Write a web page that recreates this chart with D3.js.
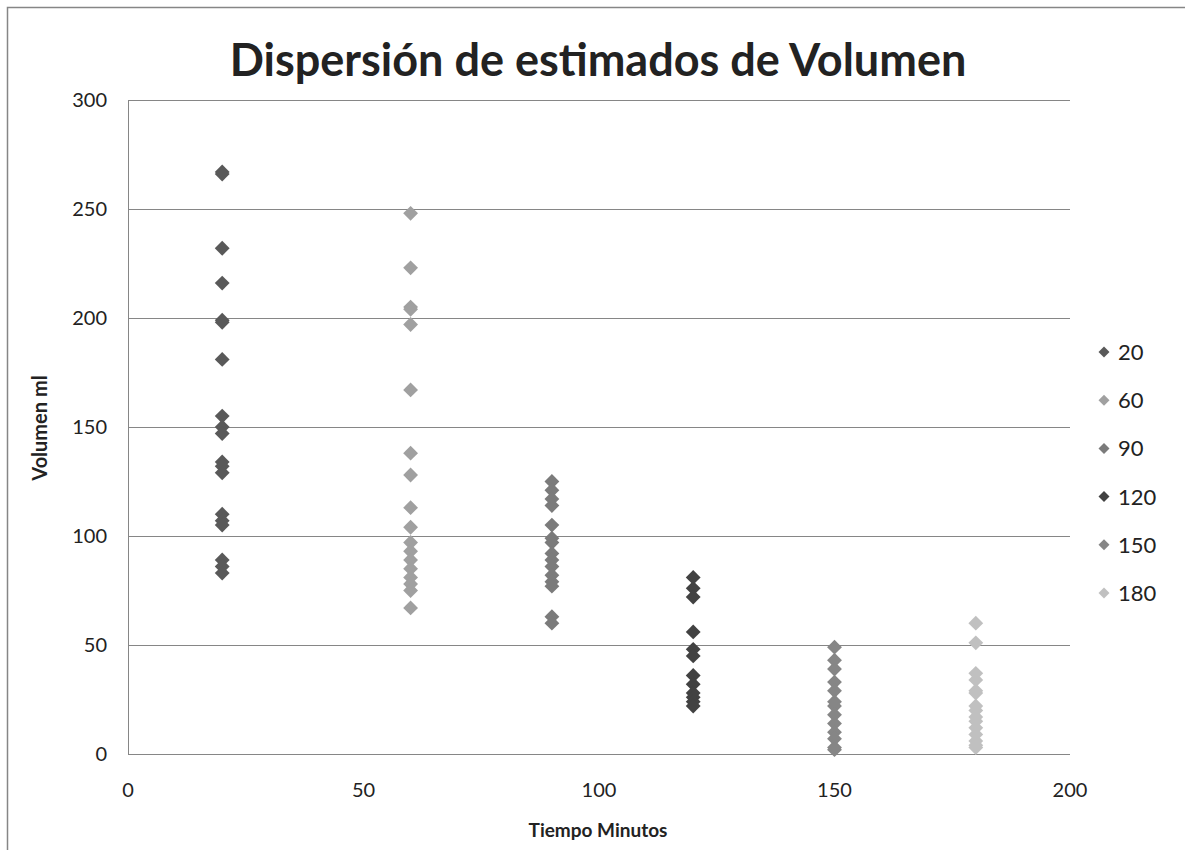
<!DOCTYPE html>
<html>
<head>
<meta charset="utf-8">
<script src="https://cdnjs.cloudflare.com/ajax/libs/d3/7.8.5/d3.min.js"></script>
<style>
  body { margin: 0; background: #fff; }
  text { font-family: Lato, "Open Sans", sans-serif; fill: #222; }
</style>
</head>
<body>
<script>
// series names (minutes) and their volumes
const seriesNames = ['20', '60', '90', '120', '150', '180']
const seriesX = [20, 60, 90, 120, 150, 180]
const vol20 = [267, 266, 232, 216, 199, 198, 181, 155, 150, 147, 134, 132, 129, 110, 107, 105, 89, 86, 83]
const vol60 = [248, 223, 205, 204, 197, 167, 138, 128, 113, 104, 97, 93, 89, 85, 81, 78, 75, 67]
const vol90 = [125, 121, 117, 114, 105, 99, 97, 92, 89, 86, 82, 79, 77, 63, 60]
const vol120 = [81, 76, 72, 56, 48, 45, 36, 32, 28, 26, 24, 22]
const vol150 = [49, 43, 39, 33, 29, 24, 22, 18, 14, 10, 7, 3, 2]
const vol180 = [60, 51, 37, 34, 29, 28, 22, 20, 17, 15, 12, 9, 6, 4, 3]
const seriesColors = ['#595959', '#a0a0a0', '#7b7b7b', '#424242', '#868686', '#c0c0c0']
const yTicks = [0, 50, 100, 150, 200, 250, 300]
const xTicks = [0, 50, 100, 150, 200]

const allVols = [vol20, vol60, vol90, vol120, vol150, vol180]

const m = { width: 1185, height: 850, left: 128, right: 1070, top: 100, bottom: 754 }

const svg = d3.select('body').append('svg')
    .attr('width', m.width)
    .attr('height', m.height)

// outer chart border
svg.append('rect')
    .attr('x', 7.5).attr('y', 7.5)
    .attr('width', m.width).attr('height', m.height)
    .attr('fill', 'none')
    .attr('stroke', '#868686')
    .attr('stroke-width', 1.5)

const x = d3.scaleLinear().domain([0, 200]).range([m.left, m.right])
const y = d3.scaleLinear().domain([0, 300]).range([m.bottom, m.top])

// gridlines
svg.append('g').selectAll('line')
    .data(yTicks.filter(d => d > 0))
    .enter().append('line')
    .attr('x1', m.left).attr('x2', m.right)
    .attr('y1', d => Math.round(y(d)) + 0.5)
    .attr('y2', d => Math.round(y(d)) + 0.5)
    .attr('stroke', '#868686')

// axes
svg.append('line')
    .attr('x1', m.left + 0.5).attr('x2', m.left + 0.5)
    .attr('y1', m.top).attr('y2', m.bottom)
    .attr('stroke', '#868686')
svg.append('line')
    .attr('x1', m.left).attr('x2', m.right)
    .attr('y1', m.bottom + 0.5).attr('y2', m.bottom + 0.5)
    .attr('stroke', '#868686')

svg.append('g').selectAll('text')
    .data(yTicks)
    .enter().append('text')
    .attr('x', 107)
    .attr('y', d => y(d) + 7)
    .attr('text-anchor', 'end')
    .style('font-size', '20px')
    .text(d => d)

svg.append('g').selectAll('text')
    .data(xTicks)
    .enter().append('text')
    .attr('x', d => x(d))
    .attr('y', 797)
    .attr('text-anchor', 'middle')
    .style('font-size', '20px')
    .text(d => d)

// titles
svg.append('text')
    .attr('x', 598).attr('y', 76)
    .attr('text-anchor', 'middle')
    .style('font-size', '45px').style('font-weight', 'bold')
    .text('Dispersión de estimados de Volumen')

svg.append('text')
    .attr('x', 598).attr('y', 837)
    .attr('text-anchor', 'middle')
    .style('font-size', '19px').style('font-weight', 'bold')
    .text('Tiempo Minutos')

svg.append('text')
    .attr('transform', 'translate(47,' + (y(150) + 1) + ') rotate(-90)')
    .attr('text-anchor', 'middle')
    .style('font-size', '20px').style('font-weight', 'bold')
    .text('Volumen ml')

// points
const diamond = d3.symbol().type(d3.symbolSquare).size(110)
const plot = svg.append('g')
allVols.forEach(function (vals, i) {
    plot.selectAll('.s' + i)
        .data(vals)
        .enter().append('path')
        .attr('class', 's' + i)
        .attr('d', diamond)
        .attr('transform', d => 'translate(' + x(seriesX[i]) + ',' + y(d) + ') rotate(45)')
        .attr('fill', seriesColors[i])
})

// legend
const legendDiamond = d3.symbol().type(d3.symbolSquare).size(60)
const legend = svg.append('g').selectAll('g')
    .data(seriesNames)
    .enter().append('g')
    .attr('transform', (d, i) => 'translate(1104,' + (352 + i * 48.2) + ')')
legend.append('path')
    .attr('d', legendDiamond)
    .attr('transform', 'rotate(45)')
    .attr('fill', (d, i) => seriesColors[i])
legend.append('text')
    .attr('x', 14).attr('y', 8)
    .style('font-size', '22px')
    .text(d => d)
</script>
</body>
</html>
